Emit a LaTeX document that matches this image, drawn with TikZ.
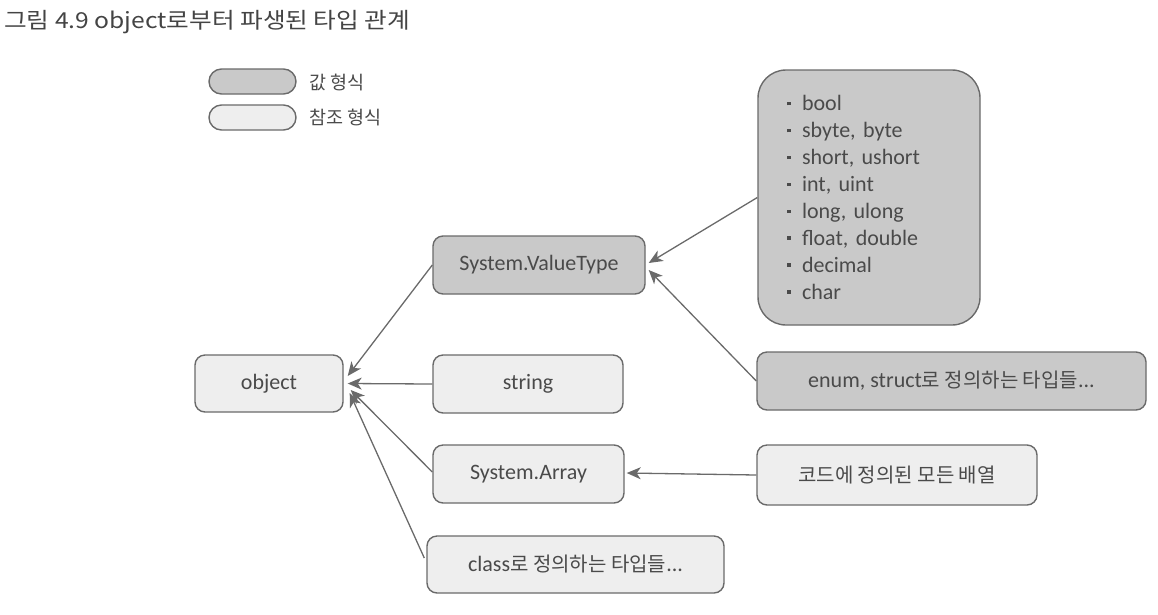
\documentclass[tikz,border=0pt]{standalone}
\usepackage{fontspec}
\setmainfont{Carlito}
\newfontfamily\kr{Noto Sans CJK KR}
\usetikzlibrary{arrows.meta,calc}
\definecolor{valfill}{HTML}{C9C9C9}
\definecolor{reffill}{HTML}{EEEEEE}
\definecolor{edgec}{HTML}{6A6A6A}
\definecolor{txt}{HTML}{4A4A4A}
\definecolor{titlec}{HTML}{444444}
\newcommand{\lstbul}{\rule[5.5pt]{3.5pt}{3.5pt}\hspace{11.5pt}}
\newcommand{\krtxt}[1]{{\kr\fontsize{20}{24}\selectfont #1}}
\begin{document}
\begin{tikzpicture}[x=1pt,y=-1pt,
  box/.style={draw=edgec, line width=1.4pt, rounded corners=10pt, text=txt,
    font=\fontsize{22}{26}\selectfont, inner sep=0pt},
  valbox/.style={box, fill=valfill},
  refbox/.style={box, fill=reffill},
  pill/.style={draw=edgec, line width=1.4pt, rounded corners=12.5pt,
    minimum width=87pt, minimum height=25pt, inner sep=0pt},
  legtext/.style={anchor=west, text=txt, inner sep=0pt, font=\kr\fontsize{18.5}{21}\selectfont},
  arrc/.style={draw=edgec, line width=1.3pt, -{Stealth[length=14pt,width=12pt,inset=4pt]}},
]
\useasboundingbox (0,0) rectangle (1158,614);

% title
\node[anchor=west, inner sep=0pt, text=titlec, font=\kr\fontsize{22}{25}\selectfont] (title) at (4,22)
  {\scalebox{1.12}[1]{그림 4.9 object로부터 파생된 타입 관계}};

% legend
\node[pill, fill=valfill] (leg1) at (252.5,81.5) {};
\node[pill, fill=reffill] (leg2) at (252.5,117.5) {};
\node[legtext] (leg1t) at (309,82) {값 형식};
\node[legtext] (leg2t) at (309,117.5) {참조 형식};

% nodes
\node[refbox, minimum width=148pt, minimum height=57pt] (obj) at (269,383.5) {object};
\node[valbox, minimum width=212pt, minimum height=58pt] (vt) at (539,265) {System.ValueType};
\node[refbox, minimum width=190pt, minimum height=58pt] (str) at (528,384) {string};
\node[refbox, minimum width=191pt, minimum height=58pt] (sysarr) at (528.5,474) {System.Array};
\node[refbox, minimum width=297pt, minimum height=57pt] (cls) at (575.5,564.5) {class\krtxt{로 정의하는 타입들}...};
\node[valbox, minimum width=389pt, minimum height=58pt] (enum) at (951.5,381) {enum, struct\krtxt{로 정의하는 타입들}...};
\node[refbox, minimum width=280pt, minimum height=60pt] (code) at (897,475) {\krtxt{코드에 정의된 모든 배열}};
\node[valbox, rounded corners=28pt, minimum width=222pt, minimum height=255pt,
      text width=164pt, inner xsep=29pt, inner ysep=0pt, align=left,
      font=\fontsize{22}{26.9}\selectfont] (list) at (869,197.5)
  {\lstbul bool\\ \lstbul sbyte, byte\\ \lstbul short, ushort\\ \lstbul int, uint\\
   \lstbul long, ulong\\ \lstbul float, double\\ \lstbul decimal\\ \lstbul char};

% connectors
\draw[arrc] (vt.west) -- ($(obj.east)+(4,-7.5)$);
\draw[arrc] (str.west) -- ($(obj.east)+(4,0)$);
\draw[arrc] ($(sysarr.west)+(0,-2)$) -- ($(obj.east)+(7,6.5)$);
\draw[arrc] ($(cls.west)+(-2,-6.5)$) -- ($(obj.east)+(6,9.5)$);
\draw[arrc] (list.west) -- ($(vt.east)+(3,-2)$);
\draw[arrc] (enum.west) -- ($(vt.east)+(3,5)$);
\draw[arrc] (code.west) -- ($(sysarr.east)+(2,-1)$);
\end{tikzpicture}
\end{document}
